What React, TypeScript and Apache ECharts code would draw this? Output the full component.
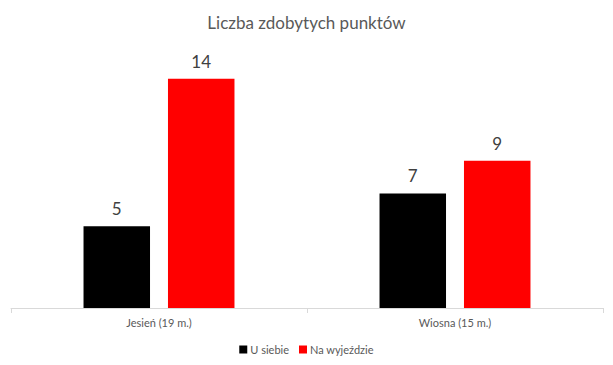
import React, { useEffect, useRef } from "react";
import * as echarts from "echarts";

const categories = ["Jesień (19 m.)", "Wiosna (15 m.)"];
const homeValues = [5, 7];
const awayValues = [14, 9];
const seriesNames = ["U siebie", "Na wyjeździe"];
const titleText = "Liczba zdobytych punktów";

const FONT = "Lato, 'Open Sans', sans-serif";

export default function App() {
  const ref = useRef<HTMLDivElement>(null);
  useEffect(() => {
    if (!ref.current) return;
    const chart = echarts.init(ref.current, null, { renderer: "svg" });
    const labelStyle = {
      show: true,
      position: "top" as const,
      distance: 9,
      fontSize: 17,
      color: "#404040",
      fontFamily: FONT,
    };
    chart.setOption({
      animation: false,
      backgroundColor: "#ffffff",
      title: {
        text: titleText,
        left: "center",
        top: 9,
        textStyle: { fontSize: 17, fontWeight: "normal", color: "#595959", fontFamily: FONT },
      },
      legend: {
        bottom: 5,
        left: "center",
        itemWidth: 8,
        itemHeight: 8,
        itemGap: 10,
        icon: "rect",
        textStyle: { fontSize: 11, color: "#595959", fontFamily: FONT, padding: [0, 0, 0, -2] },
        data: seriesNames,
      },
      grid: { left: 11, right: 10, top: 46, bottom: 57, containLabel: false },
      xAxis: {
        type: "category",
        data: categories,
        axisLine: { lineStyle: { color: "#d9d9d9", width: 1 } },
        axisTick: { show: true, length: 5, lineStyle: { color: "#d9d9d9" }, alignWithLabel: false },
        axisLabel: { fontSize: 11, color: "#595959", fontFamily: FONT, margin: 9 },
      },
      yAxis: {
        type: "value",
        min: 0,
        max: 16,
        show: false,
        splitLine: { show: false },
      },
      series: [
        {
          name: seriesNames[0],
          type: "bar",
          data: homeValues,
          itemStyle: { color: "#000000" },
          barGap: "27%",
          barCategoryGap: "49%",
          label: labelStyle,
        },
        {
          name: seriesNames[1],
          type: "bar",
          data: awayValues,
          itemStyle: { color: "#ff0000" },
          barGap: "27%",
          barCategoryGap: "49%",
          label: labelStyle,
        },
      ],
    });
    return () => chart.dispose();
  }, []);
  return (
    <div
      ref={ref}
      style={{ position: "fixed", left: 0, top: 0, width: 613, height: 365, background: "#fff" }}
    />
  );
}
